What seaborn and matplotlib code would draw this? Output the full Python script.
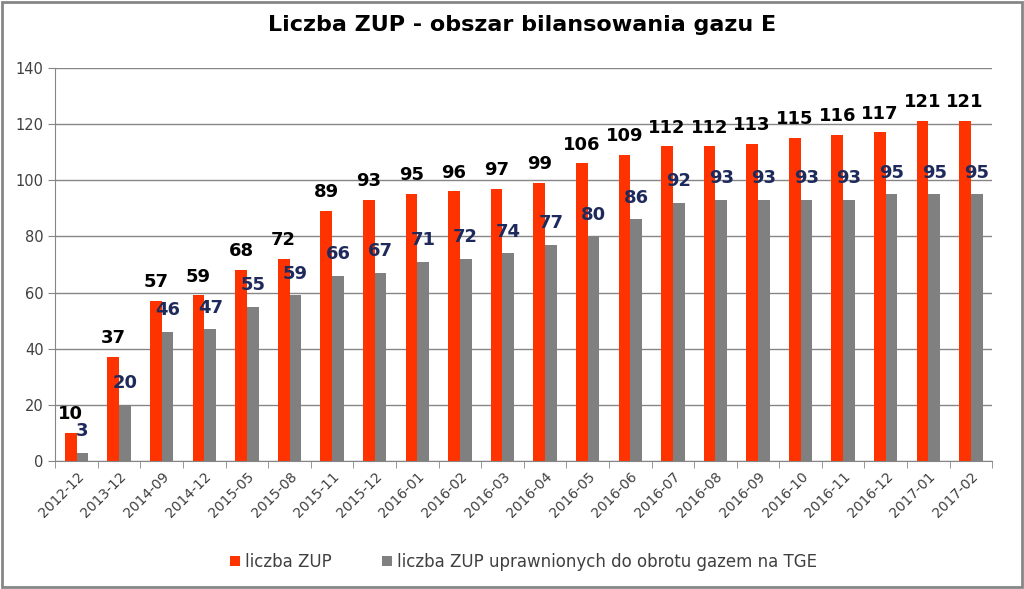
import pandas as pd
import numpy as np
import matplotlib
matplotlib.use("Agg")
import matplotlib.pyplot as plt
import seaborn as sns

# data
months = ["2012-12", "2013-12", "2014-09", "2014-12", "2015-05", "2015-08", "2015-11",
          "2015-12", "2016-01", "2016-02", "2016-03", "2016-04", "2016-05", "2016-06",
          "2016-07", "2016-08", "2016-09", "2016-10", "2016-11", "2016-12", "2017-01", "2017-02"]
zup = [10, 37, 57, 59, 68, 72, 89, 93, 95, 96, 97, 99, 106, 109, 112, 112, 113, 115, 116, 117, 121, 121]
zup_tge = [3, 20, 46, 47, 55, 59, 66, 67, 71, 72, 74, 77, 80, 86, 92, 93, 93, 93, 93, 95, 95, 95]
series = ["liczba ZUP", "liczba ZUP uprawnionych do obrotu gazem na TGE"]

df = pd.DataFrame({"month": months * 2,
                   "value": zup + zup_tge,
                   "series": [series[0]] * len(months) + [series[1]] * len(months)})

sns.set_style("white")
plt.rcParams["font.family"] = ["DejaVu Sans"]

fig = plt.figure(figsize=(10.24, 5.89), dpi=100)
ax = fig.add_axes([0.054, 0.217, 0.915, 0.668])

palette = {series[0]: "#FF3300", series[1]: "#808080"}
sns.barplot(data=df, x="month", y="value", hue="series", palette=palette,
            width=0.55, saturation=1, linewidth=0, ax=ax, legend=True)

ax.set_ylim(0, 140)
ax.set_yticks(range(0, 141, 20))
ax.set_xlim(-0.5, len(months) - 0.5)
ax.yaxis.grid(True, color="#868686", linewidth=1)
ax.set_axisbelow(True)
ax.set_xlabel("")
ax.set_ylabel("")
for s in ["top", "right"]:
    ax.spines[s].set_visible(False)
for s in ["left", "bottom"]:
    ax.spines[s].set_color("#868686")
ax.tick_params(axis="y", labelsize=10.5, colors="#404040", length=5, color="#868686", direction="out", left=True)
ax.tick_params(axis="x", labelsize=10, colors="#404040", length=0, pad=6)
ax.set_xticks(range(len(months)))
ax.set_xticklabels(months, rotation=45, ha="right", rotation_mode="anchor")
ax.set_xticks(np.arange(-0.5, len(months), 1), minor=True)
ax.tick_params(axis="x", which="minor", length=5, color="#868686", bottom=True)

# value labels
ax.bar_label(ax.containers[0], labels=[str(v) for v in zup], fontsize=13,
             fontweight="bold", color="black", padding=7)
ax.bar_label(ax.containers[1], labels=[str(v) for v in zup_tge], fontsize=13,
             fontweight="bold", color="#1F2A5C", padding=9)

ax.legend(loc="upper center", bbox_to_anchor=(0.5, -0.195), ncol=2, frameon=False,
          fontsize=12, handlelength=0.6, handleheight=0.6, columnspacing=3,
          handletextpad=0.3, labelcolor="#404040")

fig.suptitle("Liczba ZUP - obszar bilansowania gazu E", x=0.51, y=0.975,
             fontsize=16, fontweight="bold", color="black")

fig.patches.append(plt.Rectangle((0.002, 0.003), 0.996, 0.994, transform=fig.transFigure,
                                 fill=False, edgecolor="#868686", linewidth=2))

fig.savefig("out.png", dpi=100)
